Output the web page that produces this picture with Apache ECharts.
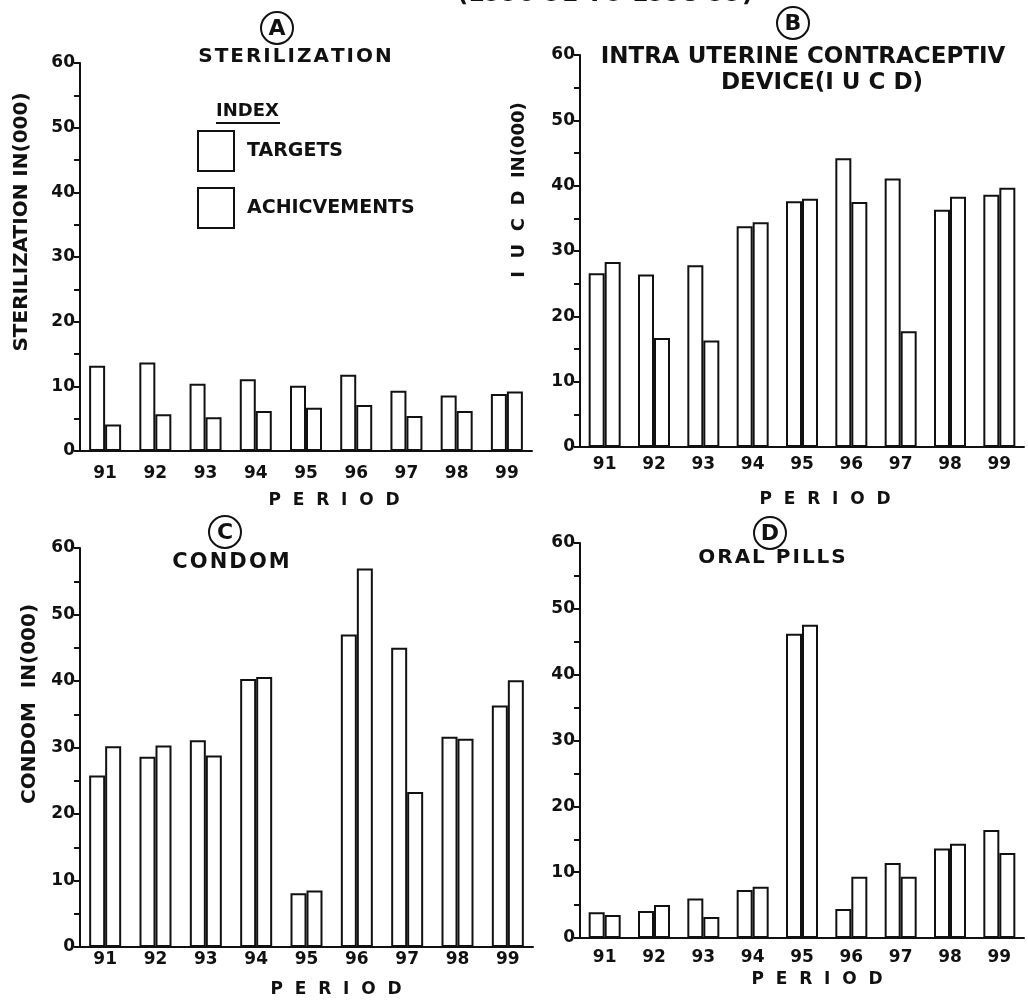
<!DOCTYPE html>
<html>
<head>
<meta charset="utf-8">
<title>Family welfare targets and achievements</title>
<script src="https://cdn.jsdelivr.net/npm/echarts@6/dist/echarts.min.js"></script>
<style>
  html, body { margin: 0; padding: 0; background: #fff; }
  #chart { width: 1028px; height: 1001px; }
</style>
</head>
<body>
<div id="chart"></div>
<script>
// ---------------------------------------------------------------------------
// Data (thousands)
// ---------------------------------------------------------------------------
const periods = ['91', '92', '93', '94', '95', '96', '97', '98', '99']

const sterTargets = [13.2, 13.7, 10.4, 11.1, 10.1, 11.8, 9.3, 8.6, 8.8]
const sterAchiev = [4.1, 5.7, 5.2, 6.2, 6.7, 7.1, 5.4, 6.2, 9.2]

const iucdTargets = [26.6, 26.4, 27.8, 33.8, 37.6, 44.2, 41.1, 36.3, 38.6]
const iucdAchiev = [28.3, 16.7, 16.3, 34.4, 38.0, 37.5, 17.7, 38.3, 39.7]

const condomTargets = [25.8, 28.6, 31.1, 40.3, 8.1, 47.0, 45.0, 31.6, 36.3]
const condomAchiev = [30.2, 30.3, 28.8, 40.6, 8.5, 56.9, 23.3, 31.3, 40.1]

const pillTargets = [3.9, 4.1, 6.0, 7.3, 46.2, 4.4, 11.4, 13.6, 16.4]
const pillAchiev = [3.5, 5.0, 3.2, 7.8, 47.6, 9.3, 9.3, 14.3, 12.9]

const yTicks = [0, 10, 20, 30, 40, 50, 60]

// ---------------------------------------------------------------------------
// Style helpers
// ---------------------------------------------------------------------------
const FONT = '"DejaVu Sans", sans-serif'
const INK = '#111'
const HS = '\u200A' // hair space, used as letter spacing

function spaced(s) {
  return s.split('').join(HS)
}

const grids = [
  { left: 80, top: 63, width: 452, height: 388 },   // A sterilization
  { left: 580, top: 55, width: 444, height: 392 },  // B IUCD
  { left: 80, top: 548, width: 453, height: 399 },  // C condom
  { left: 580, top: 543, width: 444, height: 395 }, // D oral pills
]
const labelMargins = [14, 9, 4, 11]

function xAxisFor(i) {
  return {
    type: 'category',
    gridIndex: i,
    data: periods,
    axisLine: { lineStyle: { color: INK, width: 2 } },
    axisTick: { show: false },
    axisLabel: { color: INK, fontFamily: FONT, fontWeight: 'bold', fontSize: 17, margin: labelMargins[i] },
    splitLine: { show: false },
  }
}

function yAxisFor(i) {
  return {
    type: 'value',
    gridIndex: i,
    min: yTicks[0],
    max: yTicks[yTicks.length - 1],
    interval: 10,
    axisLine: { show: true, lineStyle: { color: INK, width: 2 } },
    axisTick: { show: true, length: 6, lineStyle: { color: INK, width: 2 } },
    minorTick: { show: true, splitNumber: 2, length: 6, lineStyle: { color: INK, width: 2 } },
    axisLabel: { color: INK, fontFamily: FONT, fontWeight: 'bold', fontSize: 17, margin: 5 },
    splitLine: { show: false },
  }
}

function barSeries(name, i, data) {
  return {
    name,
    type: 'bar',
    xAxisIndex: i,
    yAxisIndex: i,
    data,
    barWidth: 16,
    barGap: '0%',
    itemStyle: { color: '#fff', borderColor: INK, borderWidth: 2 },
    emphasis: { disabled: true },
  }
}

function label(text, x, y, size, opts = {}) {
  return {
    type: 'text',
    x,
    y,
    rotation: opts.rotation || 0,
    style: {
      text,
      fill: INK,
      font: `bold ${size}px ${FONT}`,
      align: opts.align || 'center',
      verticalAlign: 'middle',
    },
  }
}

function circled(letter, cx, cy) {
  return [
    { type: 'circle', shape: { cx, cy, r: 16 }, style: { fill: 'none', stroke: INK, lineWidth: 2 } },
    label(letter, cx, cy + 1, 22),
  ]
}

// ---------------------------------------------------------------------------
// Annotations: titles, axis names, legend heading
// ---------------------------------------------------------------------------
const graphics = [
  label('(1990-91 TO 1998-99)', 605, -5, 24),

  ...circled('A', 277, 28),
  label(spaced('STERILIZATION'), 295, 57, 20),
  label('STERILIZATION IN(000)', 22, 222, 20, { rotation: Math.PI / 2 }),
  label('P  E  R  I  O  D', 334, 501, 17),

  ...circled('B', 793, 23),
  label('INTRA UTERINE CONTRACEPTIV', 803, 57, 23),
  label('DEVICE(I U C D)', 822, 83, 23),
  label('I  U  C  D  IN(000)', 519, 190, 18, { rotation: Math.PI / 2 }),
  label('P  E  R  I  O  D', 825, 500, 17),

  ...circled('C', 225, 532),
  label(spaced('CONDOM'), 231, 563, 21),
  label('CONDOM  IN(000)', 30, 704, 20, { rotation: Math.PI / 2 }),
  label('P  E  R  I  O  D', 336, 990, 17),

  ...circled('D', 770, 533),
  label(spaced('ORAL PILLS'), 772, 558, 20),
  label('P  E  R  I  O  D', 817, 980, 17),

  label('INDEX', 216, 111, 18, { align: 'left' }),
  { type: 'line', shape: { x1: 216, y1: 123, x2: 280, y2: 123 }, style: { stroke: INK, lineWidth: 2 } },
]

// ---------------------------------------------------------------------------
// Chart
// ---------------------------------------------------------------------------
const chart = echarts.init(document.getElementById('chart'), null, { renderer: 'canvas' })

chart.setOption({
  backgroundColor: '#fff',
  animation: false,
  textStyle: { fontFamily: FONT },
  grid: grids.map((g) => ({ ...g, containLabel: false })),
  xAxis: [0, 1, 2, 3].map(xAxisFor),
  yAxis: [0, 1, 2, 3].map(yAxisFor),
  legend: {
    orient: 'vertical',
    left: 192,
    top: 125,
    icon: 'rect',
    itemWidth: 36,
    itemHeight: 40,
    itemGap: 15,
    selectedMode: false,
    data: ['TARGETS', 'ACHICVEMENTS'],
    textStyle: { color: INK, fontFamily: FONT, fontWeight: 'bold', fontSize: 19, padding: [0, 0, 0, 8] },
  },
  series: [
    barSeries('TARGETS', 0, sterTargets),
    barSeries('ACHICVEMENTS', 0, sterAchiev),
    barSeries('TARGETS', 1, iucdTargets),
    barSeries('ACHICVEMENTS', 1, iucdAchiev),
    barSeries('TARGETS', 2, condomTargets),
    barSeries('ACHICVEMENTS', 2, condomAchiev),
    barSeries('TARGETS', 3, pillTargets),
    barSeries('ACHICVEMENTS', 3, pillAchiev),
  ],
  graphic: graphics,
})
</script>
</body>
</html>
